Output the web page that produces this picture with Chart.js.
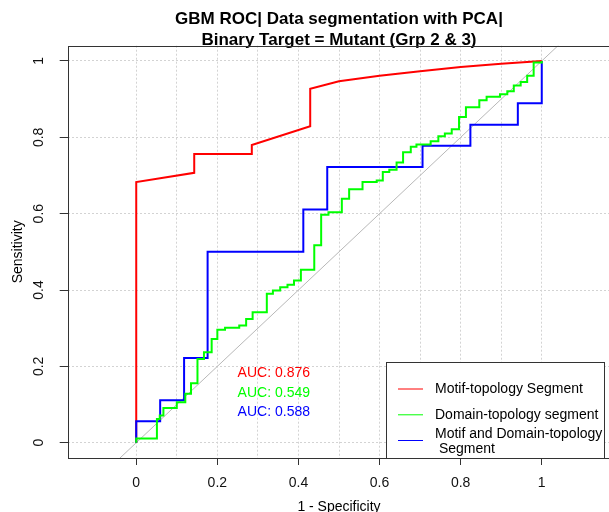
<!DOCTYPE html>
<html>
<head>
<meta charset="utf-8">
<script src="https://cdn.jsdelivr.net/npm/chart.js@4.4.1/dist/chart.umd.min.js"></script>
<style>
html,body{margin:0;padding:0;overflow:hidden;background:#ffffff;}
canvas{display:block;}
</style>
</head>
<body>
<canvas id="roc" width="620" height="520"></canvas>
<script>
// ---- data ----
const titleLines = ['GBM ROC| Data segmentation with PCA|', 'Binary Target = Mutant (Grp 2 & 3)'];
const xAxisTitle = '1 - Specificity';
const yAxisTitle = 'Sensitivity';
const seriesNames = ['Motif-topology Segment', 'Domain-topology segment', 'Motif and Domain-topology\n Segment'];
const aucLabels = ['AUC: 0.876', 'AUC: 0.549', 'AUC: 0.588'];

const motifFpr = [0, 0, 0.143, 0.143, 0.285, 0.285, 0.429, 0.429, 0.5, 0.6, 0.7, 0.8, 0.9, 1];
const motifTpr = [0, 0.683, 0.707, 0.756, 0.756, 0.780, 0.829, 0.927, 0.947, 0.961, 0.973, 0.984, 0.993, 1];

const domainFpr = [0, 0, 0.051, 0.058, 0.067, 0.100, 0.121, 0.135, 0.151, 0.167, 0.186, 0.200, 0.219, 0.254, 0.271, 0.287, 0.322, 0.337, 0.355, 0.373, 0.389, 0.406, 0.439, 0.456, 0.474, 0.507, 0.525, 0.558, 0.593, 0.608, 0.624, 0.642, 0.658, 0.677, 0.691, 0.726, 0.745, 0.761, 0.778, 0.796, 0.813, 0.846, 0.864, 0.897, 0.915, 0.931, 0.948, 0.964, 0.980, 1];
const domainTpr = [0, 0.011, 0.062, 0.071, 0.091, 0.106, 0.128, 0.156, 0.219, 0.237, 0.272, 0.296, 0.301, 0.307, 0.324, 0.342, 0.390, 0.399, 0.407, 0.414, 0.425, 0.453, 0.517, 0.597, 0.604, 0.639, 0.664, 0.683, 0.687, 0.709, 0.715, 0.734, 0.761, 0.775, 0.781, 0.790, 0.803, 0.810, 0.821, 0.853, 0.879, 0.897, 0.906, 0.913, 0.921, 0.936, 0.945, 0.961, 0.996, 1];

const bothFpr = [0, 0, 0.059, 0.118, 0.176, 0.412, 0.471, 0.706, 0.824, 0.941, 1];
const bothTpr = [0, 0.056, 0.111, 0.222, 0.5, 0.611, 0.722, 0.778, 0.833, 0.889, 1];

const diagonalEnds = [-0.2, 1.2];
const xTickLabels = [0, 0.2, 0.4, 0.6, 0.8, 1];
const xGridValues = [0, 0.1, 0.2, 0.3, 0.4, 0.5, 0.6, 0.7, 0.8, 0.9, 1];
const yTickLabels = [0, 0.2, 0.4, 0.6, 0.8, 1];

// ---- build chart ----
const FONT = "'Liberation Sans', Arial, Helvetica, sans-serif";
Chart.defaults.font.family = FONT;
Chart.defaults.font.size = 14;
Chart.defaults.color = '#000';

const pts = (xs, ys) => xs.map((x, i) => ({x: x, y: ys[i]}));

const framePlugin = {
  id: 'frame',
  afterDatasetsDraw(chart) {
    const {ctx, chartArea: a} = chart;
    ctx.save();
    ctx.strokeStyle = '#333';
    ctx.lineWidth = 1;
    ctx.strokeRect(Math.round(a.left) + 0.5, Math.round(a.top) + 0.5, Math.round(a.right - a.left), Math.round(a.bottom - a.top));
    ctx.restore();
  }
};

const aucPlugin = {
  id: 'aucText',
  afterDatasetsDraw(chart, args, opts) {
    const {ctx} = chart;
    const xs = chart.scales.x, ys = chart.scales.y;
    ctx.save();
    ctx.font = '14px ' + FONT;
    ctx.textAlign = 'left';
    ctx.textBaseline = 'middle';
    aucLabels.forEach((t, i) => {
      ctx.fillStyle = opts.colors[i];
      ctx.fillText(t, xs.getPixelForValue(opts.x), ys.getPixelForValue(opts.y[i]));
    });
    ctx.restore();
  }
};

const legendPlugin = {
  id: 'rocLegend',
  afterDraw(chart, args, opts) {
    const {ctx, chartArea: a} = chart;
    const right = Math.round(a.right - opts.insetRight);
    const bottom = Math.round(a.bottom);
    const left = right - opts.width;
    const top = bottom - opts.height;
    ctx.save();
    ctx.fillStyle = '#fff';
    ctx.fillRect(left, top, opts.width, opts.height);
    ctx.strokeStyle = '#333';
    ctx.lineWidth = 1;
    ctx.strokeRect(left + 0.5, top + 0.5, opts.width, opts.height);
    ctx.font = '14px ' + FONT;
    ctx.textAlign = 'left';
    ctx.textBaseline = 'middle';
    const ds = chart.data.datasets.filter(d => d.inLegend).sort((p, q) => p.legendIndex - q.legendIndex);
    ds.forEach((d, i) => {
      const row = opts.rows[i];
      ctx.strokeStyle = d.borderColor;
      ctx.lineWidth = 1;
      ctx.beginPath();
      ctx.moveTo(left + opts.lineStart, top + row.line + 0.5);
      ctx.lineTo(left + opts.lineEnd, top + row.line + 0.5);
      ctx.stroke();
      ctx.fillStyle = '#000';
      d.label.split('\n').forEach((t, j) => {
        ctx.fillText(t, left + opts.textX, top + row.text + j * opts.lineGap);
      });
    });
    ctx.restore();
  }
};

new Chart(document.getElementById('roc'), {
  type: 'scatter',
  data: {
    datasets: [
      {
        label: seriesNames[1], inLegend: true, legendIndex: 1,
        data: pts(domainFpr, domainTpr),
        showLine: true, stepped: 'before',
        borderColor: '#00ff00', borderWidth: 2, pointRadius: 0, order: 1
      },
      {
        label: seriesNames[2], inLegend: true, legendIndex: 2,
        data: pts(bothFpr, bothTpr),
        showLine: true, stepped: 'before',
        borderColor: '#0000ff', borderWidth: 2, pointRadius: 0, order: 2
      },
      {
        label: seriesNames[0], inLegend: true, legendIndex: 0,
        data: pts(motifFpr, motifTpr),
        showLine: true, tension: 0,
        borderColor: '#ff0000', borderWidth: 2, pointRadius: 0, order: 3
      },
      {
        label: 'diagonal', inLegend: false,
        data: pts(diagonalEnds, diagonalEnds),
        showLine: true, clip: 0,
        borderColor: '#b8b8b8', borderWidth: 1, pointRadius: 0, order: 10
      }
    ]
  },
  options: {
    responsive: false,
    devicePixelRatio: 1,
    animation: false,
    events: [],
    layout: { padding: { left: 0, right: 9.7, top: 0, bottom: 0 } },
    plugins: {
      legend: { display: false },
      tooltip: { enabled: false },
      title: {
        display: true,
        fullSize: false,
        text: titleLines,
        color: '#000',
        font: { size: 17, weight: 'bold', lineHeight: 1.2 },
        padding: { top: 9.3, bottom: -4.4 }
      },
      aucText: { x: 0.25, y: [0.182, 0.131, 0.081], colors: ['#ff0000', '#00ff00', '#0000ff'] },
      rocLegend: {
        insetRight: 6.3, width: 218, height: 96,
        lineStart: 12, lineEnd: 37, textX: 49,
        lineGap: 15,
        rows: [ {line: 26.5, text: 26.7}, {line: 52.3, text: 53.5}, {line: 78, text: 72.3} ]
      }
    },
    scales: {
      x: {
        type: 'linear',
        min: -0.169, max: 1.169,
        afterFit: s => { s.height = 62; },
        afterBuildTicks: s => { s.ticks = xGridValues.map(v => ({value: v})); },
        ticks: {
          autoSkip: false, maxRotation: 0, minRotation: 0, padding: 9.6,
          color: '#111', font: { size: 14 },
          callback: v => (xTickLabels.includes(v) ? String(v) : '')
        },
        grid: {
          color: '#d3d3d3', lineWidth: 1,
          tickLength: 7,
          tickColor: c => (c.tick && xTickLabels.includes(c.tick.value) ? '#333' : 'rgba(0,0,0,0)')
        },
        border: { display: false, dash: [2, 2] },
        title: { display: true, text: xAxisTitle, color: '#000', font: { size: 14 }, padding: { top: 0, bottom: 4.2 } }
      },
      y: {
        type: 'linear',
        min: -0.04, max: 1.04,
        afterFit: s => { s.width = 67.7; },
        afterBuildTicks: s => { s.ticks = yTickLabels.map(v => ({value: v})); },
        ticks: {
          autoSkip: false, minRotation: 90, maxRotation: 90, crossAlign: 'center', padding: 10.7,
          color: '#111', font: { size: 14 },
          callback: v => String(v)
        },
        grid: { color: '#d3d3d3', lineWidth: 1, tickLength: 8, tickColor: '#333' },
        border: { display: false, dash: [2, 2] },
        title: { display: true, text: yAxisTitle, color: '#000', font: { size: 14 }, padding: { top: 9.6, bottom: 0 } }
      }
    }
  },
  plugins: [framePlugin, aucPlugin, legendPlugin]
});
</script>
</body>
</html>
